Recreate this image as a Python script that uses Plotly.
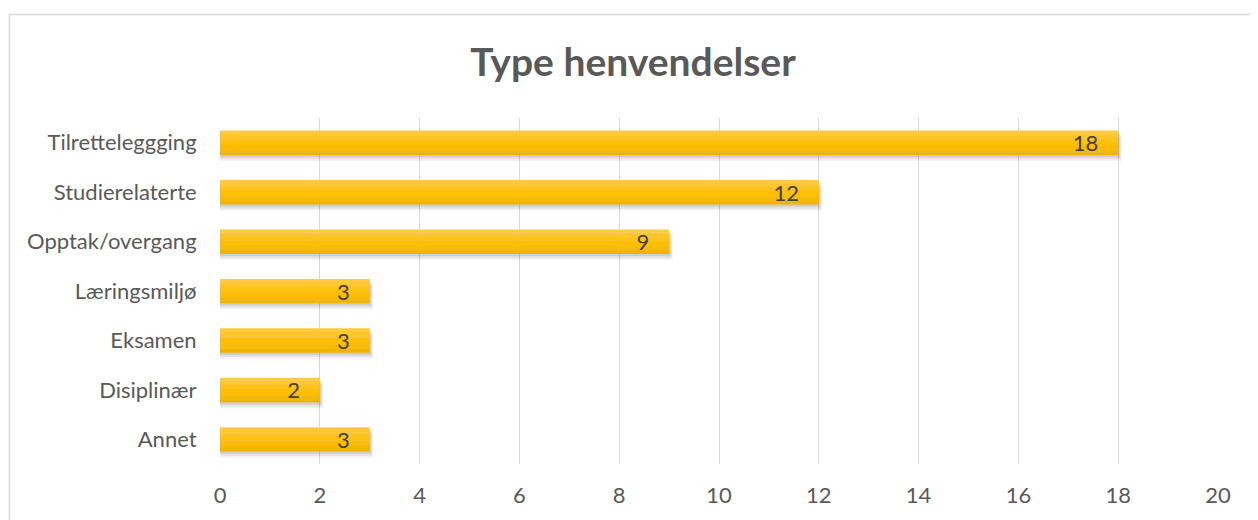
import plotly.graph_objects as go

categories = ["Tilretteleggging", "Studierelaterte", "Opptak/overgang",
              "Læringsmiljø", "Eksamen", "Disiplinær", "Annet"]
values = [18, 12, 9, 3, 3, 2, 3]
x_ticks = [0, 2, 4, 6, 8, 10, 12, 14, 16, 18, 20]
title_text = "Type henvendelser"

FONT = "Lato, Carlito, Calibri, sans-serif"
BW = 0.49

fig = go.Figure()

# soft drop shadow (layered)
for dx, dy, a in [(0.07, 0.13, 0.06), (0.05, 0.09, 0.09), (0.03, 0.05, 0.12)]:
    fig.add_trace(go.Bar(
        y=categories, x=[v + dx for v in values], orientation="h",
        width=BW, offset=-BW / 2 + dy,
        marker=dict(color=f"rgba(60,60,60,{a})", line=dict(width=0)),
        hoverinfo="skip", showlegend=False))

# vertical gradient built from thin bands (top -> bottom)
band_colors = ["#FFCB3E", "#FFC833", "#FFC526", "#FFC21A", "#FFC000",
               "#FDBE00", "#FABB00", "#F6B800", "#F0B300"]
n = len(band_colors)
bh = BW / n
for i, c in enumerate(band_colors):
    fig.add_trace(go.Bar(
        y=categories, x=values, orientation="h",
        width=bh * 1.08, offset=-BW / 2 + i * bh,
        marker=dict(color=c, line=dict(width=0)),
        hoverinfo="skip", showlegend=False))

# labels
pad = "\u00a0\u00a0\u00a0"
fig.add_trace(go.Bar(
    y=categories, x=values, orientation="h", width=BW, offset=-BW / 2,
    marker=dict(color="rgba(0,0,0,0)", line=dict(width=0)),
    text=[f"{v}{pad}" for v in values], textposition="inside", insidetextanchor="end",
    textangle=0, constraintext="none",
    textfont=dict(family=FONT, size=22, color="#404040"),
    cliponaxis=False, hoverinfo="skip", showlegend=False))

W, H, OFF = 1250, 512, 8
fig.update_layout(
    width=W, height=H,
    margin=dict(l=220 - OFF, r=W + OFF - 1218, t=118 - OFF, b=H + OFF - 467),
    paper_bgcolor="white", plot_bgcolor="white",
    barmode="overlay",
    title=dict(text=f"<b>{title_text}</b>", x=0.5, xref="container", xanchor="center",
               y=1 - (62 - OFF) / H, yanchor="middle",
               font=dict(family=FONT, size=39, color="#595959")),
    xaxis=dict(range=[0, 20], tickvals=x_ticks, showgrid=True, gridcolor="#D9D9D9",
               gridwidth=1, zeroline=False, showline=False, ticks="outside",
               ticklen=12, tickcolor="rgba(0,0,0,0)",
               tickfont=dict(family=FONT, size=22, color="#595959")),
    yaxis=dict(categoryorder="array", categoryarray=categories, autorange="reversed",
               showgrid=False, zeroline=False, showline=False, ticks="outside",
               ticklen=18, tickcolor="rgba(0,0,0,0)",
               tickfont=dict(family=FONT, size=22, color="#595959")),
    shapes=[dict(type="rect", xref="paper", yref="paper",
                 x0=(9.5 - 220) / 998, x1=(1270 - 220) / 998,
                 y0=(467 - 540) / 349, y1=(467 - 13.5) / 349,
                 line=dict(color="#D9D9D9", width=1.5), fillcolor="rgba(0,0,0,0)",
                 layer="below")],
)

fig.write_html("out.html")
